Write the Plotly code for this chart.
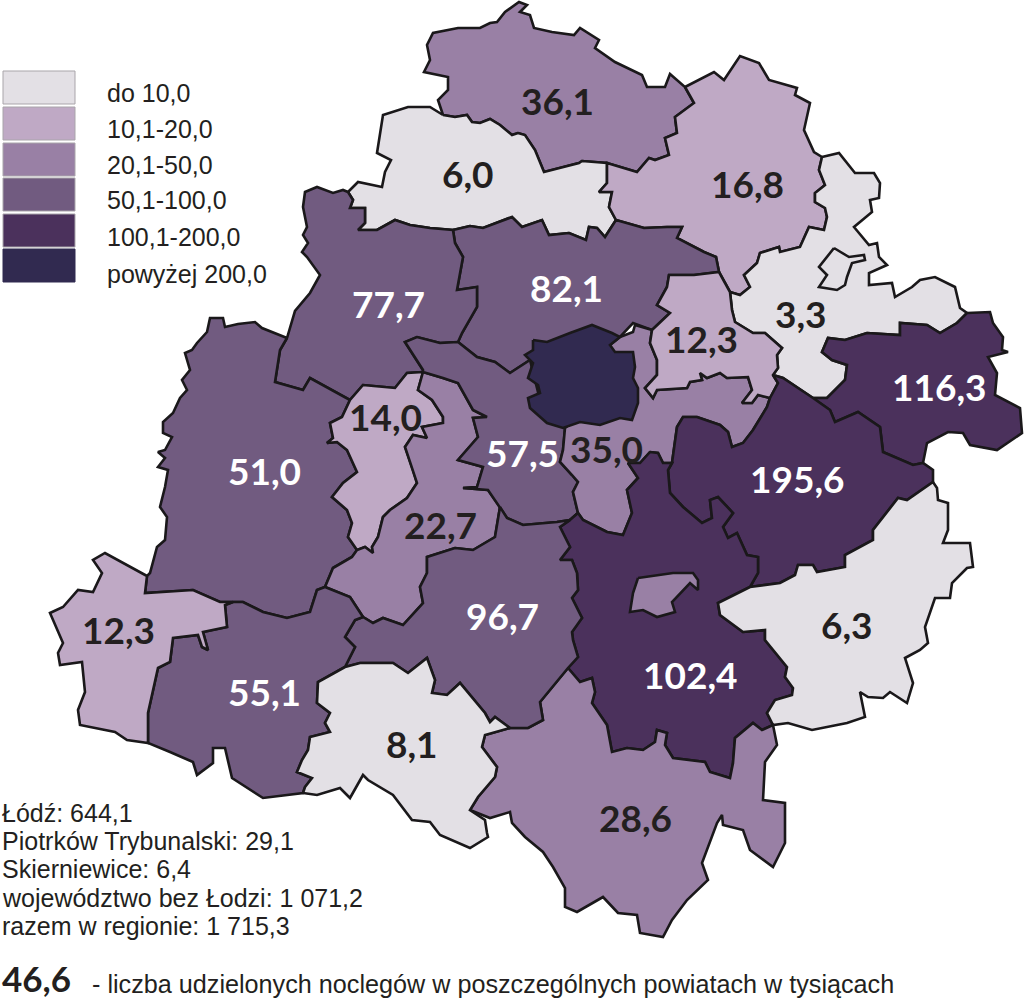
import plotly.graph_objects as go

# legend
legend_labels = ["do 10,0", "10,1-20,0", "20,1-50,0", "50,1-100,0", "100,1-200,0", "powyżej 200,0"]
legend_colors = ["#e3e0e5", "#bfa9c5", "#9980a5", "#715b80", "#4b315c", "#312a50"]
legend_tops = [71, 107, 143, 178, 214, 249]
legend_text_y = [93, 129, 165, 200, 237, 274]

# text below the map
city_lines = ["Łódź: 644,1", "Piotrków Trybunalski: 29,1", "Skierniewice: 6,4",
              "województwo bez Łodzi: 1 071,2", "razem w regionie: 1 715,3"]
note_value = "46,6"
note_text = "- liczba udzielonych noclegów w poszczególnych powiatach w tysiącach"

# shared borders, image pixels
b_north_6 = [(443,115),(455,117),(467,115),(472,122),(480,123),(490,119),(500,125),(512,135),(518,133),(525,135),(535,150),(544,172),(579,163),(582,161),(607,163)]
b_north_168 = [(607,163),(637,172),(649,158),(655,160),(669,155),(665,138),(677,133),(675,117),(694,103),(685,87)]
b_6_168 = [(607,163),(607,183),(599,192),(612,192),(609,207),(616,220)]
b_6_82 = [(616,220),(605,237),(597,228),(589,227),(586,240),(569,233),(549,235),(542,220),(522,227),(512,217),(483,228),(470,226),(453,230)]
b_6_77 = [(453,230),(430,228),(410,225),(395,220),(377,230),(358,230),(365,223),(365,208),(350,208),(353,200),(348,192)]
b_168_82 = [(616,220),(644,228),(667,227),(682,227),(677,238),(704,252),(716,257),(719,272)]
b_168_33 = [(822,157),(819,170),(825,185),(815,193),(815,202),(825,208),(827,217),(824,230),(809,227),(800,247),(780,252),(779,247),(760,253),(757,263),(744,275),(750,287),(740,295),(730,292),(719,272)]
b_82_77 = [(453,230),(455,243),(463,257),(457,290),(477,287),(477,307),(462,333),(458,342)]
b_82_123 = [(652,330),(670,313),(657,305),(667,287),(669,275),(694,275),(719,272)]
b_82_575 = [(458,342),(477,357),(495,362),(510,373),(530,360)]
b_77_575 = [(458,342),(440,343),(417,337),(405,342),(423,370)]
b_77_14 = [(423,372),(407,373),(395,388),(363,385),(350,400)]
b_77_51 = [(350,400),(315,380),(310,378),(303,390),(275,382),(280,350),(287,338)]
b_14_51 = [(350,400),(342,417),(330,423),(333,438),(327,443),(337,442),(347,450),(357,472),(343,483),(332,497),(347,510),(352,523),(348,537),(357,550)]
b_14_227 = [(423,372),(418,390),(432,400),(443,417),(443,423),(422,427),(427,438),(413,435),(405,447),(413,470),(417,483),(407,498),(390,510),(383,517),(378,537),(372,547),(373,553),(365,547),(357,550)]
b_51_227 = [(357,550),(352,557),(333,568),(325,587)]
b_227_575 = [(423,372),(443,378),(458,383),(473,410),(487,417),(473,418),(478,437),(458,460),(483,467),(477,487),(463,488),(488,490),(500,507)]
b_227_967 = [(500,507),(495,537),(473,550),(455,548),(427,557),(427,573),(420,587),(423,603),(403,625),(383,618),(373,623),(363,617)]
b_227_551 = [(325,587),(350,597),(363,617)]
b_575_967 = [(500,507),(507,518),(523,525),(557,522),(570,520)]
b_575_350 = [(565,428),(563,450),(560,462),(572,475),(578,482),(573,492),(578,513),(570,520)]
b_350_1024 = [(578,513),(583,520),(607,532),(623,535),(632,513),(627,490),(638,478),(628,463),(640,463),(650,452)]
b_350_1956 = [(672,463),(677,427),(683,417),(697,417),(720,425),(728,432),(732,447),(743,443),(753,430),(767,407),(770,398)]
b_350_123 = [(652,330),(650,343),(657,360),(657,375),(645,388),(653,398),(657,390),(687,388),(690,382),(702,380),(700,373),(707,378),(720,373),(727,378),(748,377),(752,390),(742,403),(752,403),(758,395),(770,398)]
b_123_33 = [(730,292),(732,310),(735,322),(753,333),(765,333),(782,348),(777,355),(778,368),(773,375)]
b_123_1956 = [(773,375),(778,383),(770,398)]
b_33_1163 = [(813,398),(827,398),(845,380),(847,365),(832,360),(822,352),(828,338),(845,340),(867,333),(900,335),(900,323),(927,325),(940,333),(957,323),(967,313)]
b_33_1956 = [(773,375),(783,378),(813,398)]
b_1163_1956 = [(813,398),(830,410),(835,422),(858,412),(880,427),(883,452),(913,465),(923,463)]
b_1956_1024 = [(672,463),(668,470),(670,493),(683,507),(702,523),(712,518),(710,500),(718,497),(733,513),(723,527),(728,538),(737,533),(747,555),(758,557),(758,573),(750,587)]
b_1956_63 = [(750,587),(780,583),(795,575),(798,565),(813,565),(817,572),(845,567),(845,555),(873,540),(873,530),(898,498),(907,500),(933,482)]
b_1024_63 = [(750,587),(718,603),(720,615),(743,632),(765,630),(765,640),(787,667),(785,677),(793,688),(792,695),(775,700),(767,713),(773,725)]
b_1024_286 = [(568,668),(580,682),(592,678),(595,692),(592,703),(607,725),(612,752),(627,748),(643,750),(655,742),(657,730),(667,733),(665,745),(673,758),(705,762),(710,772),(730,778),(733,763),(735,738),(753,723),(762,730),(773,725)]
b_1024_967 = [(570,520),(560,527),(570,547),(560,560),(572,560),(577,573),(578,590),(572,598),(582,618),(572,632),(573,640),(578,657),(568,668)]
b_967_286 = [(568,668),(550,690),(540,702),(543,720),(528,728),(510,728)]
b_967_81 = [(510,728),(495,717),(490,722),(485,713),(460,683),(447,695),(432,693),(435,680),(427,658),(408,673),(393,663),(360,663),(345,667)]
b_967_551 = [(345,667),(355,647),(345,637),(355,620),(363,617)]
b_551_81 = [(345,667),(318,682),(317,703),(330,713),(325,723),(330,732),(310,737),(308,750),(302,760),(297,772),(312,778),(305,787),(303,793)]
b_551_51 = [(325,587),(317,590),(310,612),(287,618),(263,612),(243,602),(233,602)]
b_551_123w = [(233,602),(225,605),(227,627),(203,632),(208,650),(202,647),(198,635),(173,638),(170,662),(158,668),(148,713),(148,743)]
b_51_123w = [(147,576),(145,593),(193,590),(220,602),(233,602)]
b_81_286 = [(510,728),(485,735),(482,747),(497,767),(495,777),(478,797),(470,810)]

r_north = [(443,115),(438,100),(448,90),(448,77),(424,72),(430,60),(427,45),(433,33),(458,28),(480,28),(490,23),(497,22),(505,12),(519,2),(527,5),(520,12),(530,15),(534,28),(552,32),(574,35),(580,28),(599,40),(595,48),(615,62),(642,75),(647,87),(665,87),(670,74),(685,87)] + b_north_168[::-1] + b_north_6[::-1]
r_6 = b_north_6 + b_6_168 + b_6_82 + b_6_77 + [(358,182),(382,187),(385,172),(391,160),(377,153),(380,133),(383,115),(408,107),(430,107),(443,115)]
r_168 = [(685,87),(702,78),(714,72),(724,80),(732,68),(740,56),(759,63),(769,80),(797,88),(795,95),(810,103),(804,130),(814,152),(822,157)] + b_168_33 + b_168_82[::-1] + b_6_168[::-1] + b_north_168
r_33 = [(822,157),(839,153),(855,173),(874,173),(880,183),(879,198),(870,200),(872,212),(854,227),(869,245),(877,243),(879,257),(887,265),(869,273),(869,285),(892,283),(895,297),(912,287),(920,280),(935,277),(955,287),(960,308),(967,313)] + b_33_1163[::-1] + b_33_1956[::-1] + b_123_33[::-1] + b_168_33[:-1][::-1]
r_33_island = [(834,248),(849,257),(864,255),(865,260),(852,263),(847,277),(845,285),(837,290),(819,287),(827,275),(819,267),(832,250)]
r_82 = b_6_82[::-1] + b_168_82 + b_82_123[::-1] + [(633,323),(620,337),(590,350),(530,360)] + b_82_575[::-1] + b_82_77[::-1]
r_77 = b_6_77[::-1] + b_82_77 + b_77_575 + b_77_14 + b_77_51 + [(295,311),(310,293),(320,275),(307,257),(302,252),(308,243),(303,235),(307,227),(303,207),(305,192),(317,187),(333,193),(343,190),(348,192)]
r_51 = [(287,338),(262,328),(255,322),(238,324),(225,327),(223,318),(210,318),(207,332),(197,343),(192,350),(185,353),(190,370),(182,380),(187,390),(180,398),(173,413),(163,422),(163,433),(172,437),(165,450),(158,452),(165,458),(158,467),(168,470),(165,487),(160,507),(167,517),(165,540),(157,547),(150,573),(147,576)] + b_51_123w + b_551_51[::-1] + b_51_227[::-1] + b_14_51[::-1] + b_77_51
r_14 = b_77_14 + b_14_51 + b_14_227[::-1]
r_227 = b_14_227 + b_51_227 + b_227_551 + b_227_967[::-1] + b_227_575[::-1]
r_575 = b_77_575 + b_227_575 + b_575_967 + b_575_350[::-1] + [(540,400),(530,360)] + b_82_575[::-1]
r_lodz = [(533,340),(547,342),(570,333),(592,325),(612,333),(620,337),(610,345),(615,352),(633,352),(635,367),(633,378),(638,388),(638,403),(632,420),(620,418),(600,425),(580,422),(563,428),(547,423),(530,408),(528,398),(540,393),(538,385),(528,378),(533,363),(525,355),(533,350)]
r_350 = [(620,337),(633,332),(635,325),(652,330)] + b_350_123 + b_350_1956[::-1] + [(663,463),(658,453),(650,452)] + b_350_1024[::-1] + b_575_350[::-1] + [(600,400),(610,345)]
r_123 = b_82_123 + b_123_33 + b_123_1956 + b_350_123[::-1]
r_1163 = [(967,313),(990,312),(993,323),(1003,337),(1002,350),(1008,352),(988,357),(997,373),(995,395),(1020,408),(1022,433),(997,450),(970,445),(963,433),(948,432),(927,443),(923,463)] + b_1163_1956[::-1] + b_33_1163
r_1956 = b_123_1956[::-1] + b_33_1956 + b_1163_1956 + [(933,470),(933,482)] + b_1956_63[::-1] + b_1956_1024[::-1] + b_350_1956
r_1024 = [(650,452),(658,453),(663,463),(672,463)] + b_1956_1024 + b_1024_63 + b_1024_286[::-1] + b_1024_967[::-1] + b_350_1024
r_1024_island = [(638,578),(673,573),(693,573),(698,580),(698,590),(690,583),(672,602),(675,612),(657,617),(643,610),(630,612),(633,593)]
r_63 = b_1956_63 + [(937,488),(938,500),(948,503),(948,530),(943,543),(970,543),(973,567),(967,568),(952,583),(950,598),(935,598),(925,627),(928,643),(920,650),(905,658),(913,683),(907,703),(890,692),(883,698),(868,697),(860,692),(865,717),(847,723),(812,730),(788,723),(773,725)] + b_1024_63[::-1]
r_286 = b_1024_286 + [(777,745),(765,762),(763,800),(785,803),(785,843),(780,853),(773,867),(750,850),(743,830),(723,825),(722,815),(717,823),(702,863),(708,880),(687,900),(672,920),(663,937),(640,933),(637,915),(618,913),(603,897),(577,912),(565,907),(565,888),(553,867),(543,852),(525,837),(512,823),(510,812),(490,818),(470,810)] + b_81_286[::-1] + b_967_286[::-1]
r_967 = b_575_967 + b_1024_967 + b_967_286 + b_967_81 + b_967_551 + b_227_967[::-1]
r_551 = b_227_551[::-1] + b_551_51 + b_551_123w + [(170,752),(193,762),(197,775),(213,763),(213,748),(225,748),(232,778),(263,798)] + b_551_81[::-1] + b_967_551
r_123w = [(147,576),(105,553),(93,560),(102,573),(93,592),(78,590),(63,607),(50,613),(63,643),(58,653),(60,665),(82,662),(85,692),(78,710),(80,725),(115,732),(127,740),(148,743)] + b_551_123w[::-1] + b_51_123w[::-1]
r_81 = b_967_81[::-1] + b_81_286 + [(485,820),(487,833),(488,837),(470,848),(440,835),(430,822),(412,820),(393,795),(368,780),(363,775),(350,798),(340,788),(317,795),(303,793)] + b_551_81[::-1]

regions = [r_north, r_6, r_168, r_33, r_33_island, r_82, r_77, r_51, r_14, r_227, r_575, r_350, r_123,
           r_1163, r_1956, r_1024, r_1024_island, r_63, r_286, r_967, r_551, r_123w, r_81, r_lodz]
region_class = [2, 0, 1, 0, 0, 3, 3, 3, 1, 2, 3, 2, 1, 4, 4, 4, 2, 0, 2, 3, 3, 1, 0, 5]

value_labels = ["36,1", "6,0", "16,8", "3,3", "82,1", "77,7", "12,3", "116,3", "14,0", "51,0", "57,5",
                "35,0", "195,6", "22,7", "96,7", "12,3", "55,1", "102,4", "6,3", "8,1", "28,6"]
label_x = [557, 468, 747, 801, 566, 388, 701, 939, 385, 264, 522, 606, 797, 440, 502, 118, 264, 690, 847, 412, 635]
label_y = [100, 173, 183, 313, 287, 303, 338, 386, 416, 470, 452, 448, 478, 524, 615, 629, 691, 674, 624, 743, 817]
label_white = [0, 0, 0, 0, 1, 1, 0, 1, 0, 1, 1, 0, 1, 0, 1, 0, 1, 1, 0, 0, 0]

SANS = "Liberation Sans"
BOLD = "Lato"
INK = "#231f20"

fig = go.Figure()

for poly, cls in zip(regions, region_class):
    xs = [p[0] for p in poly]
    ys = [p[1] for p in poly]
    fig.add_trace(go.Scatter(x=xs + xs[:1], y=ys + ys[:1], mode="lines", fill="toself",
                             fillcolor=legend_colors[cls], hoverinfo="skip",
                             line=dict(color="#1a181a", width=2.6), showlegend=False))

for txt, x, y, white in zip(value_labels, label_x, label_y, label_white):
    fig.add_annotation(x=x, y=y, text="<b>" + txt + "</b>", showarrow=False,
                       font=dict(family=BOLD, size=37, color="#ffffff" if white else INK))

for txt, color, top, ty in zip(legend_labels, legend_colors, legend_tops, legend_text_y):
    fig.add_shape(type="rect", x0=3, x1=75, y0=top, y1=top + 33, fillcolor=color,
                  line=dict(color="#a9a5aa" if color != legend_colors[-1] else color, width=1))
    fig.add_annotation(x=105, y=ty, text=txt, showarrow=False, xanchor="left",
                       font=dict(family=SANS, size=25, color=INK))

for i, txt in enumerate(city_lines):
    fig.add_annotation(x=0, y=813 + i * 28.2, text=txt, showarrow=False, xanchor="left",
                       font=dict(family=SANS, size=25, color=INK))

fig.add_annotation(x=0, y=978, text="<b>" + note_value + "</b>", showarrow=False, xanchor="left",
                   font=dict(family=BOLD, size=35, color=INK))
fig.add_annotation(x=90, y=984, text=note_text, showarrow=False, xanchor="left",
                   font=dict(family=SANS, size=25.2, color=INK))

fig.update_xaxes(range=[0, 1024], visible=False, fixedrange=True)
fig.update_yaxes(range=[1000, 0], visible=False, fixedrange=True)
fig.update_layout(width=1024, height=1000, margin=dict(l=0, r=0, t=0, b=0),
                  paper_bgcolor="#ffffff", plot_bgcolor="#ffffff")

fig.write_html("out.html", config={"displayModeBar": False},
               post_script="document.body.style.margin='0';")
